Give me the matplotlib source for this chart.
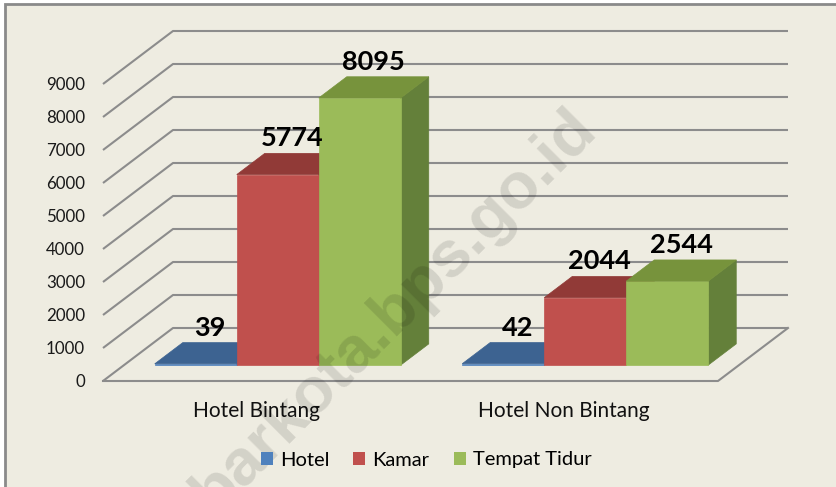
import matplotlib
matplotlib.use('Agg')
import matplotlib.pyplot as plt
from matplotlib.patches import Polygon, Rectangle, Patch

# ---------------- data ----------------
categories = ['Hotel Bintang', 'Hotel Non Bintang']
series_names = ['Hotel', 'Kamar', 'Tempat Tidur']
hotel = [39, 42]
kamar = [5774, 2044]
tempat_tidur = [8095, 2544]
y_ticks = [0, 1000, 2000, 3000, 4000, 5000, 6000, 7000, 8000, 9000]
series_values = [hotel, kamar, tempat_tidur]

# ---------------- style ----------------
front_colors = ['#4F81BD', '#C0504D', '#9BBB59']
top_colors = ['#3D6391', '#913A37', '#77933C']
side_colors = ['#385D8A', '#8B3A37', '#64803A']
bg = '#EEECE1'
grid_c = '#8C8C8C'
plt.rcParams['font.family'] = ['Lato', 'DejaVu Sans']

W, H = 837, 487
fig = plt.figure(figsize=(W / 100, H / 100), dpi=100)
fig.patch.set_facecolor('white')
ax = fig.add_axes([0, 0, 1, 1])
ax.set_axis_off()

# axis scales (front floor from x=-0.5..1.5, value 0..9000)
px_x = (718 - 103) / 2.0
px_y = (381 - 84) / 9000.0
ax.set_xlim(-0.5 - 103 / px_x, -0.5 + (W - 103) / px_x)
ax.set_ylim(-(H - 381) / px_y, 381 / px_y)

# chart area background with border
ax.add_patch(Rectangle((5 / W, -0.05), 1.0, 1.05 - 4 / H, transform=ax.transAxes,
                       facecolor=bg, edgecolor='#8A8A8A', lw=2, zorder=0))

# oblique depth vector
DX = 70 / px_x
DY = 53 / px_y
d0, d1 = 0.30, 0.70
xmin, xmax = -0.5, 1.5

# walls / gridlines
for t in y_ticks:
    ax.plot([xmin, xmin + DX, xmax + DX], [t, t + DY, t + DY],
            color=grid_c, lw=1.5, zorder=1, solid_capstyle='butt')
ax.plot([xmin, xmax, xmax + DX], [0, 0, DY], color=grid_c, lw=1.5, zorder=1)

# bars
n = len(series_values)
bw = 0.8 / n
for i, cat in enumerate(categories):
    for k, vals in enumerate(series_values):
        v = vals[i]
        x0 = i - 0.4 + k * bw
        x1 = x0 + bw
        fx, fy = d0 * DX, d0 * DY
        bx, by = d1 * DX, d1 * DY
        side = [(x1 + fx, fy), (x1 + bx, by), (x1 + bx, v + by), (x1 + fx, v + fy)]
        front = [(x0 + fx, fy), (x1 + fx, fy), (x1 + fx, v + fy), (x0 + fx, v + fy)]
        top = [(x0 + fx, v + fy), (x1 + fx, v + fy), (x1 + bx, v + by), (x0 + bx, v + by)]
        z = 2 + i * 3 + k * 0.1
        ax.add_patch(Polygon(side, closed=True, facecolor=side_colors[k],
                             edgecolor=side_colors[k], lw=0.5, zorder=z))
        ax.add_patch(Polygon(front, closed=True, facecolor=front_colors[k],
                             edgecolor=front_colors[k], lw=0.5, zorder=z))
        ax.add_patch(Polygon(top, closed=True, facecolor=top_colors[k],
                             edgecolor=top_colors[k], lw=0.5, zorder=z))
        ax.annotate(str(v), xy=((x0 + x1) / 2 + 0.5 * DX, v + d1 * DY),
                    xytext=(0, 7), textcoords='offset pixels',
                    ha='center', va='baseline', fontsize=19.5, fontweight='bold',
                    color='black', zorder=20)

# y tick labels
for t in y_ticks:
    ax.annotate(str(t), xy=(xmin, t), xytext=(-18, -6), textcoords='offset pixels',
                ha='right', va='baseline', fontsize=12.2, color='#1a1a1a')

# category labels
for i, cat in enumerate(categories):
    ax.annotate(cat, xy=(i, 0), xytext=(0, -36), textcoords='offset pixels',
                ha='center', va='baseline', fontsize=15, color='#111111')

# legend
handles = [Patch(facecolor=c, edgecolor='none') for c in front_colors]
fig.legend(handles, series_names, loc='center', bbox_to_anchor=(426 / W, 1 - 460 / H),
           ncol=3, frameon=False, fontsize=14.5, handlelength=0.6, handleheight=0.6,
           handletextpad=0.35, columnspacing=1.2)

# watermark
ax.text(0.486, 0.338, 'barkota.bps.go.id', transform=ax.transAxes, rotation=45,
        rotation_mode='anchor', ha='center', va='baseline', fontsize=47,
        fontweight='bold', family='Liberation Sans', color='black', alpha=0.115, zorder=30)

fig.savefig('out.png', dpi=100, facecolor=fig.get_facecolor())
